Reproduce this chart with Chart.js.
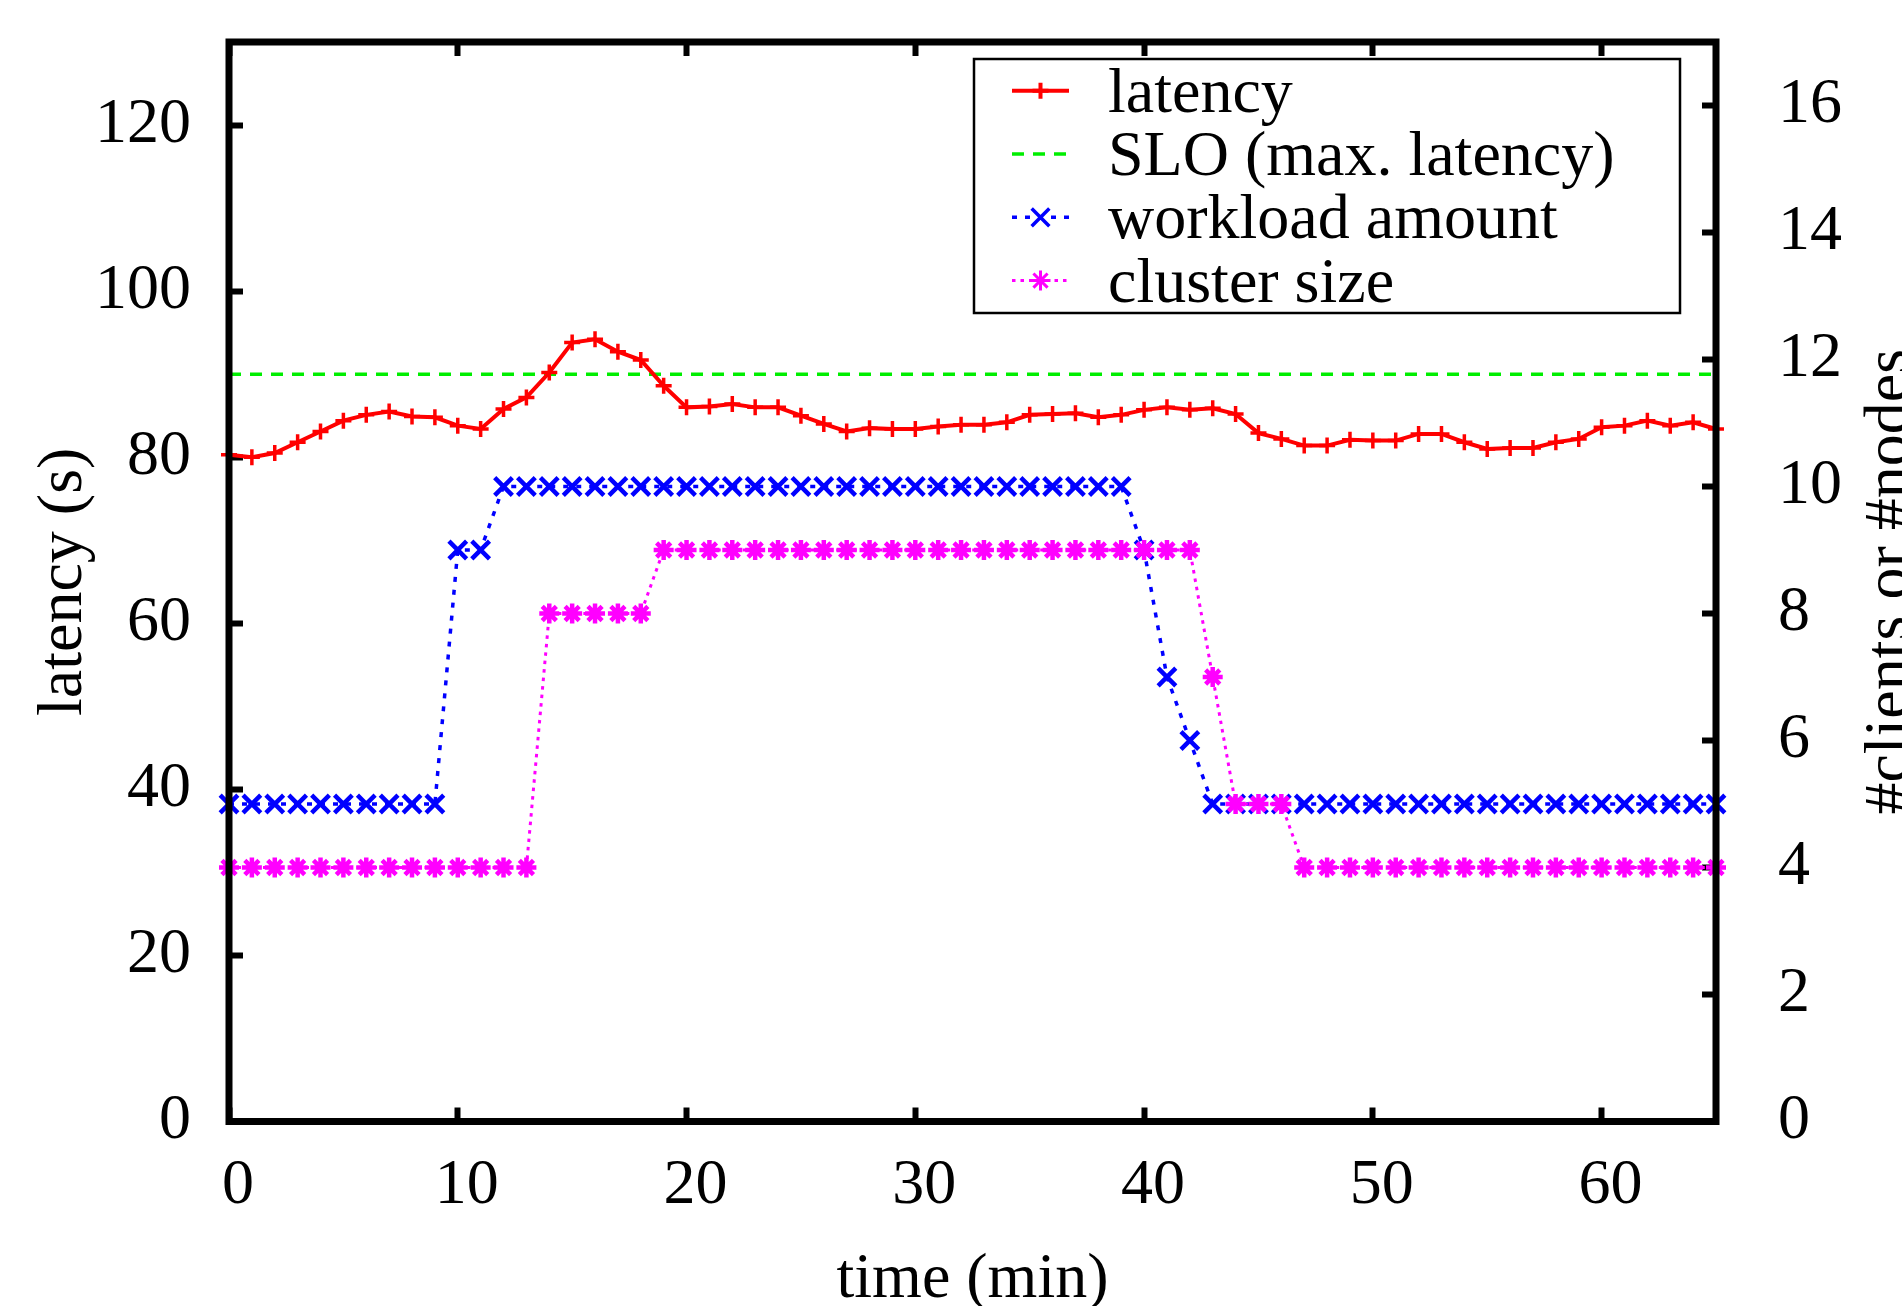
<!DOCTYPE html>
<html>
<head>
<meta charset="utf-8">
<script src="https://cdn.jsdelivr.net/npm/chart.js@4.4.0/dist/chart.umd.min.js"></script>
<style>
  html, body { margin: 0; padding: 0; background: #fff; }
  canvas { display: block; }
</style>
</head>
<body>
<canvas id="chart" width="1902" height="1306"></canvas>
<script>
// time axis (minutes)
const minutes = [0, 1, 2, 3, 4, 5, 6, 7, 8, 9, 10, 11, 12, 13, 14, 15, 16, 17, 18, 19,
  20, 21, 22, 23, 24, 25, 26, 27, 28, 29, 30, 31, 32, 33, 34, 35, 36, 37, 38, 39,
  40, 41, 42, 43, 44, 45, 46, 47, 48, 49, 50, 51, 52, 53, 54, 55, 56, 57, 58, 59,
  60, 61, 62, 63, 64, 65];

// latency (s), left axis
const latency = [80.3, 80.0, 80.5, 81.8, 83.1, 84.4, 85.1, 85.5, 84.9, 84.8,
  83.8, 83.4, 85.8, 87.2, 90.2, 93.8, 94.2, 92.7, 91.7, 88.6,
  86.0, 86.1, 86.4, 86.0, 86.0, 85.0, 84.0, 83.1, 83.5, 83.4,
  83.4, 83.7, 83.9, 83.9, 84.2, 85.1, 85.2, 85.3, 84.8, 85.1,
  85.7, 86.0, 85.7, 85.9, 85.2, 82.9, 82.2, 81.4, 81.4, 82.1,
  82.0, 82.0, 82.8, 82.8, 81.8, 81.0, 81.1, 81.1, 81.8, 82.2,
  83.6, 83.8, 84.4, 83.8, 84.2, 83.4];

const sloLatency = 90;

// #clients, right axis
const workload = [5, 5, 5, 5, 5, 5, 5, 5, 5, 5,
  9, 9, 10, 10, 10, 10, 10, 10, 10, 10,
  10, 10, 10, 10, 10, 10, 10, 10, 10, 10,
  10, 10, 10, 10, 10, 10, 10, 10, 10, 10,
  9, 7, 6, 5, 5, 5, 5, 5, 5, 5,
  5, 5, 5, 5, 5, 5, 5, 5, 5, 5,
  5, 5, 5, 5, 5, 5];

// #nodes, right axis
const clusterSize = [4, 4, 4, 4, 4, 4, 4, 4, 4, 4,
  4, 4, 4, 4, 8, 8, 8, 8, 8, 9,
  9, 9, 9, 9, 9, 9, 9, 9, 9, 9,
  9, 9, 9, 9, 9, 9, 9, 9, 9, 9,
  9, 9, 9, 7, 5, 5, 5, 4, 4, 4,
  4, 4, 4, 4, 4, 4, 4, 4, 4, 4,
  4, 4, 4, 4, 4, 4];

const timeTicks = [0, 10, 20, 30, 40, 50, 60];
const latencyTicks = [0, 20, 40, 60, 80, 100, 120];
const countTicks = [0, 2, 4, 6, 8, 10, 12, 14, 16];

const FONT = "'Liberation Serif', 'Times New Roman', serif";
Chart.defaults.font.family = FONT;
Chart.defaults.font.size = 64;
Chart.defaults.color = '#000';

const pts = vals => minutes.map((m, i) => ({ x: m, y: vals[i] }));
const setTicks = list => scale => { scale.ticks = list.map(v => ({ value: v })); };
// fixed box sizes, no extra label padding
const fitW = w => s => { s.width = w; s.paddingTop = s.paddingBottom = s.paddingLeft = s.paddingRight = 0; };
const fitH = h => s => { s.height = h; s.paddingTop = s.paddingBottom = s.paddingLeft = s.paddingRight = 0; };

const inwardGrid = {
  drawOnChartArea: false,
  drawTicks: true,
  tickLength: -14,
  tickWidth: 6,
  tickColor: '#000'
};

// black frame round the plot
const frame = {
  id: 'frame',
  afterDatasetsDraw(chart) {
    const { ctx, chartArea: a } = chart;
    ctx.save();
    ctx.strokeStyle = '#000';
    ctx.lineWidth = 7;
    ctx.strokeRect(a.left, a.top, a.right - a.left, a.bottom - a.top);
    ctx.restore();
  }
};

// gnuplot style key inside the plot
const keyBox = {
  id: 'keyBox',
  afterDraw(chart) {
    const { ctx, chartArea: a } = chart;
    const left = a.left + 745, top = a.top + 17, w = 706, h = 254, rowH = 63.3;
    ctx.save();
    ctx.fillStyle = '#fff';
    ctx.fillRect(left, top, w, h);
    ctx.strokeStyle = '#000';
    ctx.lineWidth = 2.5;
    ctx.strokeRect(left, top, w, h);
    chart.data.datasets.forEach((ds, i) => {
      const y = top + 31.7 + i * rowH;
      ctx.save();
      ctx.strokeStyle = ds.borderColor;
      ctx.lineWidth = ds.borderWidth;
      ctx.setLineDash(ds.borderDash || []);
      ctx.beginPath();
      ctx.moveTo(left + 38, y);
      ctx.lineTo(left + 95, y);
      ctx.stroke();
      ctx.setLineDash([]);
      if (ds.pointRadius > 0) {
        ctx.strokeStyle = ds.pointBorderColor;
        Chart.helpers.drawPoint(ctx, {
          pointStyle: ds.pointStyle, radius: ds.pointRadius,
          borderWidth: ds.pointBorderWidth, rotation: 0
        }, left + 66.5, y);
      }
      ctx.restore();
      ctx.fillStyle = '#000';
      ctx.font = '64px ' + FONT;
      ctx.textBaseline = 'alphabetic';
      ctx.textAlign = 'left';
      ctx.fillText(ds.label, left + 134, y + 21);
    });
    ctx.restore();
  }
};

// right axis title, reading upwards and cut by the page edge
const rightTitle = {
  id: 'rightTitle',
  afterDraw(chart) {
    const { ctx, chartArea: a } = chart;
    ctx.save();
    ctx.translate(a.right + 192, (a.top + a.bottom) / 2);
    ctx.rotate(-Math.PI / 2);
    ctx.fillStyle = '#000';
    ctx.font = '64px ' + FONT;
    ctx.textAlign = 'center';
    ctx.textBaseline = 'alphabetic';
    ctx.fillText('#clients or #nodes', 0, 0);
    ctx.restore();
  }
};

new Chart(document.getElementById('chart'), {
  type: 'line',
  data: {
    datasets: [
      {
        label: 'latency',
        data: pts(latency),
        yAxisID: 'y',
        borderColor: '#ff0000',
        borderWidth: 4,
        pointStyle: 'cross',
        pointRadius: 8,
        pointBorderWidth: 3.5,
        pointBorderColor: '#ff0000',
        order: 3
      },
      {
        label: 'SLO (max. latency)',
        data: [{ x: minutes[0], y: sloLatency }, { x: minutes[minutes.length - 1], y: sloLatency }],
        yAxisID: 'y',
        borderColor: '#00ee00',
        borderWidth: 3.5,
        borderDash: [12, 9],
        pointRadius: 0,
        order: 4
      },
      {
        label: 'workload amount',
        data: pts(workload),
        yAxisID: 'y2',
        borderColor: '#0000ff',
        borderWidth: 3.5,
        borderDash: [5, 8],
        pointStyle: 'crossRot',
        pointRadius: 12.5,
        pointBorderWidth: 4.5,
        pointBorderColor: '#0000ff',
        order: 2
      },
      {
        label: 'cluster size',
        data: pts(clusterSize),
        yAxisID: 'y2',
        borderColor: '#ff00ff',
        borderWidth: 3,
        borderDash: [3.5, 5],
        pointStyle: 'star',
        pointRadius: 10,
        pointBorderWidth: 4.5,
        pointBorderColor: '#ff00ff',
        order: 1
      }
    ]
  },
  options: {
    responsive: false,
    devicePixelRatio: 1,
    animation: false,
    events: [],
    layout: { padding: 0 },
    plugins: { legend: { display: false }, tooltip: { enabled: false } },
    datasets: { line: { clip: false, tension: 0 } },
    scales: {
      x: {
        type: 'linear',
        position: 'bottom',
        min: 0,
        max: 65,
        afterBuildTicks: setTicks(timeTicks),
        afterFit: fitH(184.5),
        ticks: { padding: 40, labelOffset: 9, maxRotation: 0 },
        grid: inwardGrid,
        border: { display: false },
        title: {
          display: true,
          text: 'time (min)',
          font: { size: 64, lineHeight: 0.8 },
          padding: { top: 0, bottom: 0 }
        }
      },
      x2: {
        type: 'linear',
        position: 'top',
        min: 0,
        max: 65,
        afterBuildTicks: setTicks(timeTicks),
        afterFit: fitH(42),
        ticks: { display: false },
        grid: inwardGrid,
        border: { display: false }
      },
      y: {
        type: 'linear',
        position: 'left',
        min: 0,
        max: 130,
        afterBuildTicks: setTicks(latencyTicks),
        afterFit: fitW(229),
        ticks: { padding: 52 },
        grid: inwardGrid,
        border: { display: false },
        title: {
          display: true,
          text: 'latency (s)',
          font: { size: 64, lineHeight: 1 },
          padding: { top: 32, bottom: 0 }
        }
      },
      y2: {
        type: 'linear',
        position: 'right',
        min: 0,
        max: 17,
        afterBuildTicks: setTicks(countTicks),
        afterFit: fitW(186),
        ticks: { padding: 76 },
        grid: inwardGrid,
        border: { display: false }
      }
    }
  },
  plugins: [frame, keyBox, rightTitle]
});
</script>
</body>
</html>
